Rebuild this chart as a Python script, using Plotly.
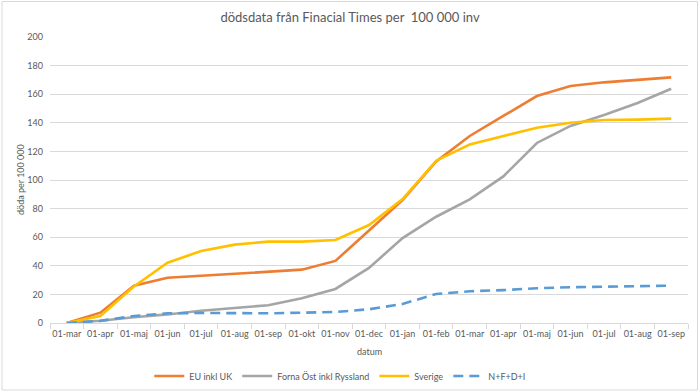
import plotly.graph_objects as go

months = ["01-mar", "01-apr", "01-maj", "01-jun", "01-jul", "01-aug", "01-sep", "01-okt",
          "01-nov", "01-dec", "01-jan", "01-feb", "01-mar", "01-apr", "01-maj", "01-jun",
          "01-jul", "01-aug", "01-sep"]
eu_inkl_uk = [0, 7.2, 26, 31.7, 33, 34.5, 35.7, 37.3, 43.4, 64.5, 86, 113, 130.8, 144.8, 158.7, 165.7, 168.3, 170, 171.8]
forna_ost = [0, 1.6, 4, 6, 8.6, 10.5, 12.4, 17.3, 23.8, 38.5, 59.4, 74.3, 86.5, 102.5, 125.9, 137.8, 145.5, 153.8, 163.8]
sverige = [0, 4.9, 25.5, 42.2, 50.3, 54.8, 56.9, 56.9, 58, 68.5, 86.7, 113.5, 124.8, 130.8, 136.6, 140, 142, 142.2, 142.9]
nfdi = [0, 1.5, 4.9, 6.8, 7, 6.8, 6.8, 7.2, 7.7, 9.6, 13.3, 20.3, 22.2, 23, 24.3, 25, 25.5, 25.6, 26.1]
y_ticks = [0, 20, 40, 60, 80, 100, 120, 140, 160, 180, 200]

x = list(range(len(months)))
FONT = "Lato, 'Open Sans', sans-serif"
GRAY = "#595959"

fig = go.Figure()
series = [
    ("EU inkl UK", eu_inkl_uk, "#ED7D31", "solid"),
    ("Forna Öst inkl Ryssland", forna_ost, "#A5A5A5", "solid"),
    ("Sverige", sverige, "#FFC000", "solid"),
    ("N+F+D+I", nfdi, "#5B9BD5", "10px,6px"),
]
for name, vals, col, dash in series:
    fig.add_trace(go.Scatter(x=x, y=vals, mode="lines", name=name,
                             line=dict(color=col, width=2.6, dash=dash)))

fig.update_layout(
    width=700, height=392,
    margin=dict(l=50, r=12, t=37, b=69, autoexpand=False),
    paper_bgcolor="white", plot_bgcolor="white",
    font=dict(family=FONT, color=GRAY, size=9),
    title=dict(text="dödsdata från Finacial Times per\u00a0\u00a0100\u00a0000 inv",
               x=0.5, xanchor="center", y=1 - 17 / 392, yanchor="middle",
               font=dict(size=13, color=GRAY, family=FONT)),
    showlegend=True,
    legend=dict(orientation="h", x=0.455, xanchor="center", y=(323 - 376) / 286, yanchor="middle",
                font=dict(size=9, color=GRAY), itemwidth=30, bgcolor="rgba(0,0,0,0)"),
    xaxis=dict(range=[-0.5, len(months) - 0.5], tickmode="array", tickvals=x, ticktext=months,
               ticks="", showgrid=False, zeroline=False, showline=True, linecolor="#d9d9d9",
               linewidth=1, ticklabelstandoff=2, tickfont=dict(size=9, color=GRAY),
               minor=dict(tick0=0.5, dtick=1, ticks="outside", ticklen=5, tickcolor="#d9d9d9",
                          showgrid=False)),
    yaxis=dict(range=[0, 200], tickmode="array", tickvals=y_ticks, showgrid=True,
               gridcolor="#d9d9d9", gridwidth=1, zeroline=False, showline=False,
               ticks="", ticklabelstandoff=6, tickfont=dict(size=9, color=GRAY)),
    annotations=[
        dict(text="datum", xref="paper", yref="paper", x=0.5, y=(323 - 351) / 286,
             showarrow=False, xanchor="center", yanchor="middle", font=dict(size=9, color=GRAY)),
        dict(text="döda per 100 000", xref="paper", yref="paper", x=(20 - 50) / 638, y=0.5,
             textangle=-90, showarrow=False, xanchor="center", yanchor="middle",
             font=dict(size=9, color=GRAY)),
    ],
    shapes=[dict(type="rect", xref="paper", yref="paper",
                 x0=(2 - 50) / 638, x1=(697.5 - 50) / 638,
                 y0=(323 - 390) / 286, y1=(323 - 1.5) / 286,
                 line=dict(color="#d9d9d9", width=1), layer="below")],
)

fig.write_html("out.html")
